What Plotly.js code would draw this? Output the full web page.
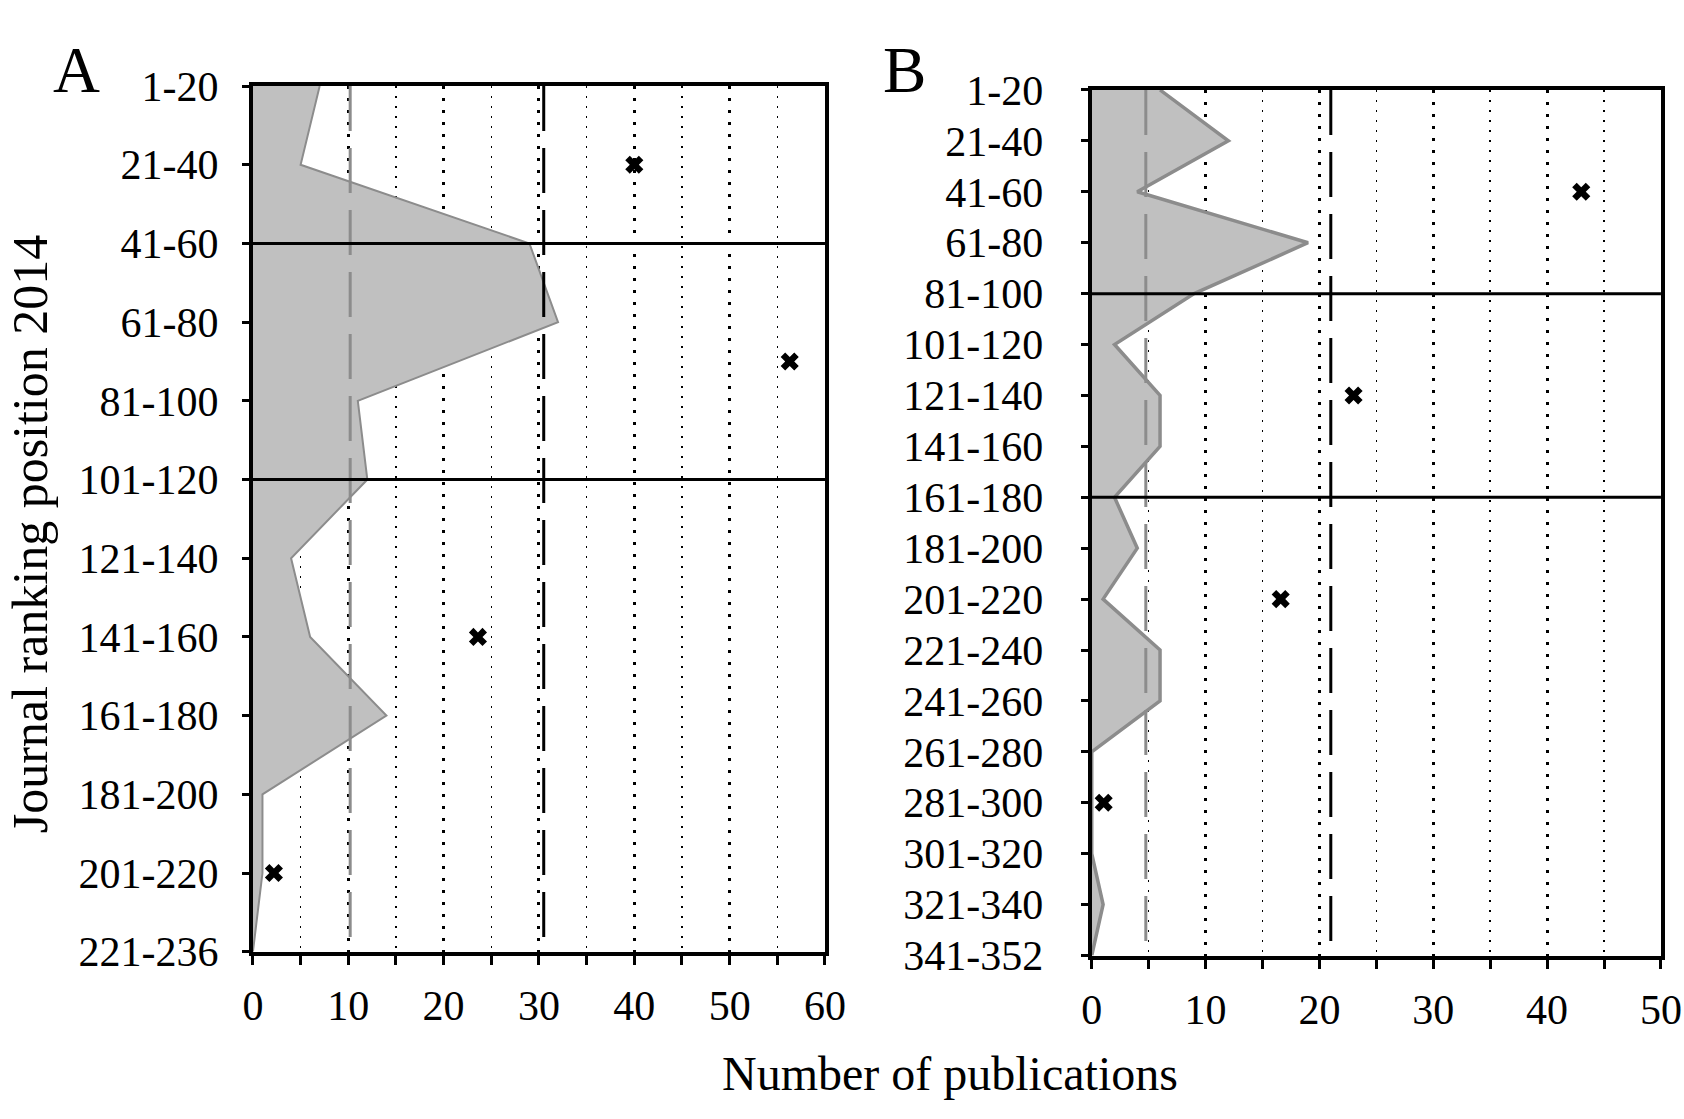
<!DOCTYPE html>
<html>
<head>
<meta charset="utf-8">
<script src="https://cdn.plot.ly/plotly-3.0.1.min.js"></script>
<style>
  body { margin: 0; background: #fff; }
  #chart { width: 1684px; height: 1119px; }
</style>
</head>
<body>
<div id="chart"></div>
<script>
// panel A: ranking groups and publications per group
const rankA = ["1-20", "21-40", "41-60", "61-80", "81-100", "101-120", "121-140",
               "141-160", "161-180", "181-200", "201-220", "221-236"];
const pubsA = [7, 5, 29, 32, 11, 12, 4, 6, 14, 1, 1, 0];
// totals per tier (crosses) and where they sit on the ranking axis
const tierPosA = [1, 3.5, 7, 10];
const tierPubsA = [40, 56.3, 23.6, 2.2];
const tierBreaksA = [2, 5];
const meanA = [10.2];      // grey dashed
const tierMeanA = [30.5];  // black dashed

// panel B
const rankB = ["1-20", "21-40", "41-60", "61-80", "81-100", "101-120", "121-140",
               "141-160", "161-180", "181-200", "201-220", "221-240", "241-260",
               "261-280", "281-300", "301-320", "321-340", "341-352"];
const pubsB = [6, 12, 4, 19, 9, 2, 6, 6, 2, 4, 1, 6, 6, 0, 0, 0, 1, 0];
const tierPosB = [2, 6, 10, 14];
const tierPubsB = [43.0, 23.0, 16.6, 1.05];
const tierBreaksB = [4, 8];
const meanB = [4.75];
const tierMeanB = [21.0];

const serif = 'Liberation Serif, Times New Roman, serif';
const idx = arr => arr.map((d, i) => i);

function areaTrace(x, ax, lw) {
  return {
    x: x, y: idx(x), xaxis: 'x' + ax, yaxis: 'y' + ax,
    type: 'scatter', mode: 'lines', fill: 'tozerox',
    fillcolor: '#c0c0c0', line: { color: '#8c8c8c', width: lw },
    hoverinfo: 'x+y', showlegend: false
  };
}
function tierTrace(x, y, ax) {
  return {
    x: x, y: y, xaxis: 'x' + ax, yaxis: 'y' + ax,
    type: 'scatter', mode: 'markers',
    marker: { symbol: 'x', size: 16, color: '#000' },
    showlegend: false
  };
}

function xAxis(domain, max, anchor) {
  return {
    domain: domain, range: [0, max], anchor: anchor,
    tick0: 0, dtick: 10,
    ticks: 'outside', ticklen: 9, tickwidth: 3, tickcolor: '#000',
    ticklabelstandoff: 5,
    showline: true, linewidth: 4, linecolor: '#000', mirror: true,
    zeroline: false,
    showgrid: true, gridcolor: '#000', gridwidth: 3, griddash: '3px,9px',
    minor: {
      dtick: 5, ticks: 'outside', ticklen: 9, tickwidth: 3, tickcolor: '#000',
      showgrid: true, gridcolor: '#000', gridwidth: 1.5, griddash: '2px,8px'
    },
    tickfont: { family: serif, size: 42, color: '#000' },
    fixedrange: true
  };
}
function yAxis(domain, labels, anchor, standoff) {
  return {
    domain: domain, range: [labels.length - 1, 0], anchor: anchor,
    tickmode: 'array', tickvals: idx(labels), ticktext: labels,
    ticks: 'outside', ticklen: 7, tickwidth: 3, tickcolor: '#000',
    ticklabelstandoff: standoff,
    showline: true, linewidth: 4, linecolor: '#000', mirror: true,
    zeroline: false, showgrid: false,
    tickfont: { family: serif, size: 42, color: '#000' },
    fixedrange: true
  };
}

function refShapes(ax, means, tierMeans, breaks) {
  const s = [];
  means.forEach(m => s.push({
    type: 'line', layer: 'above', xref: 'x' + ax, yref: 'y' + ax + ' domain',
    x0: m, x1: m, y0: 1, y1: 0,
    line: { color: '#8c8c8c', width: 3, dash: '45px,17px' }
  }));
  tierMeans.forEach(m => s.push({
    type: 'line', layer: 'above', xref: 'x' + ax, yref: 'y' + ax + ' domain',
    x0: m, x1: m, y0: 1, y1: 0,
    line: { color: '#000', width: 3, dash: '45px,17px' }
  }));
  breaks.forEach(b => s.push({
    type: 'line', layer: 'above', xref: 'x' + ax + ' domain', yref: 'y' + ax,
    x0: 0, x1: 1, y0: b, y1: b,
    line: { color: '#000', width: 3 }
  }));
  return s;
}

const data = [
  areaTrace(pubsA, '', 2),
  tierTrace(tierPubsA, tierPosA, ''),
  areaTrace(pubsB, '2', 3.5),
  tierTrace(tierPubsB, tierPosB, '2')
];

const label = (text, x, y, size, extra) => Object.assign({
  text: text, xref: 'paper', yref: 'paper', x: x, y: y,
  xanchor: 'center', yanchor: 'middle', showarrow: false,
  font: { family: serif, size: size, color: '#000' }
}, extra || {});

const layout = {
  width: 1684, height: 1119,
  margin: { l: 0, r: 0, t: 0, b: 0 },
  paper_bgcolor: '#fff', plot_bgcolor: '#fff',
  font: { family: serif, color: '#000' },
  showlegend: false,
  xaxis: xAxis([0.1502, 0.4899], 60, 'y'),
  yaxis: yAxis([0.1495, 0.9231], rankA, 'x', 15),
  xaxis2: xAxis([0.6483, 0.9863], 50, 'y2'),
  yaxis2: yAxis([0.1461, 0.9196], rankB, 'x2', 29),
  shapes: refShapes('', meanA, tierMeanA, tierBreaksA)
            .concat(refShapes('2', meanB, tierMeanB, tierBreaksB)),
  annotations: [
    label('A', 0.0457, 0.937, 65),
    label('B', 0.5374, 0.937, 65),
    label('Journal ranking position 2014', 0.018, 0.5228, 50, { textangle: -90 }),
    label('Number of publications', 0.5641, 0.041, 48)
  ]
};

Plotly.newPlot('chart', data, layout, { displayModeBar: false, staticPlot: true });
</script>
</body>
</html>
